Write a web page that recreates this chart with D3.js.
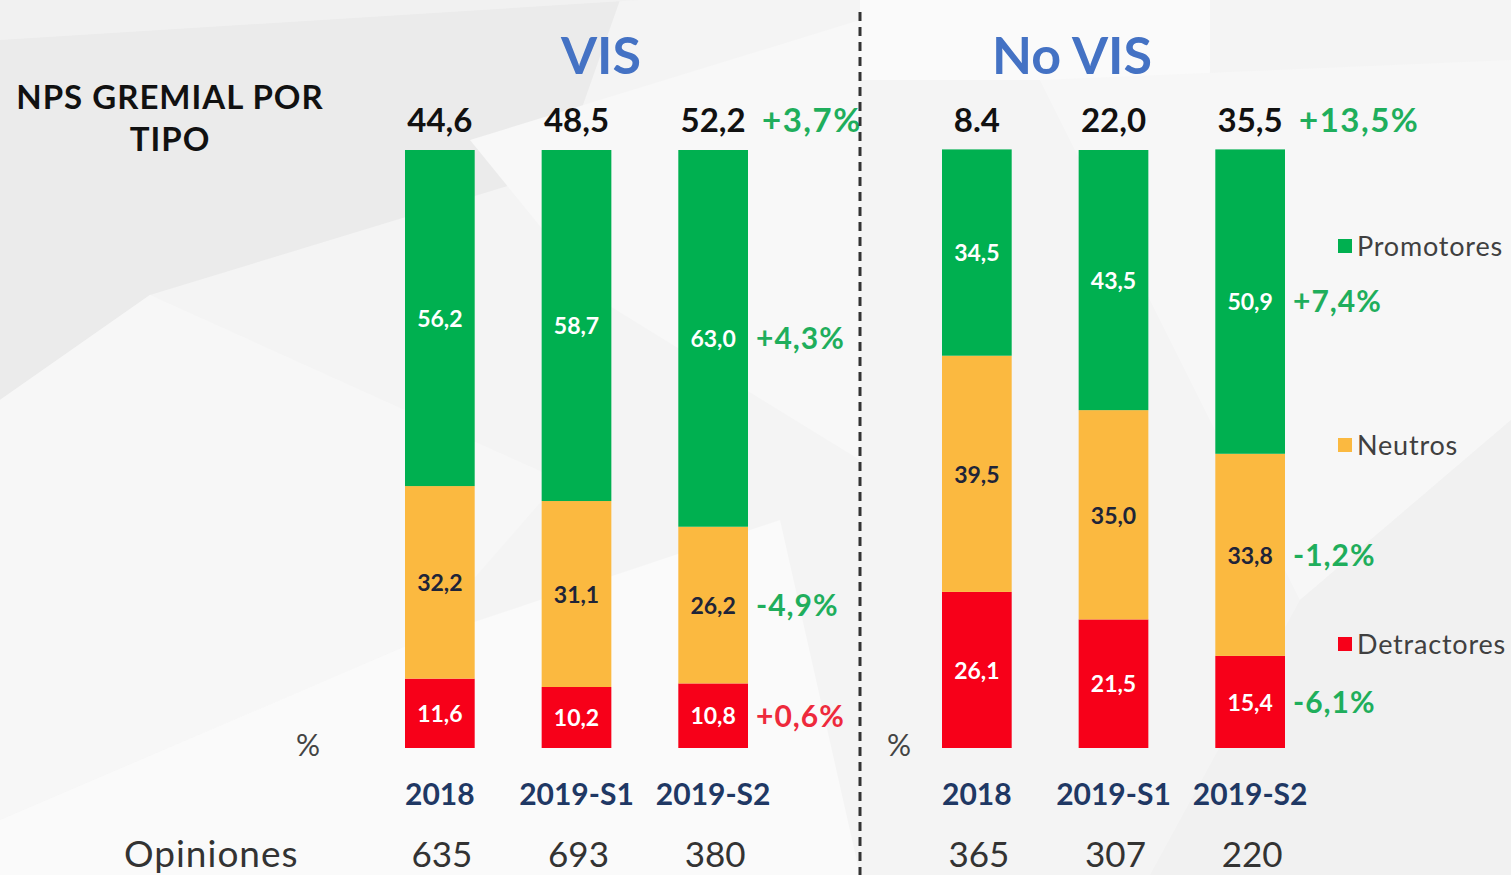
<!DOCTYPE html>
<html>
<head>
<meta charset="utf-8">
<script src="https://cdn.jsdelivr.net/npm/d3@7"></script>
<style>
  html, body { margin: 0; padding: 0; background: #f4f4f4; }
  svg { display: block; }
  text { font-family: "Lato", "Open Sans", sans-serif; }
</style>
</head>
<body>
<script>
"use strict";

var width = 1511;
var height = 875;

var categories = ["2018", "2019-S1", "2019-S2"];
var segmentKeys = ["Detractores", "Neutros", "Promotores"];
var legendKeys = ["Promotores", "Neutros", "Detractores"];

var visPromotores = [56.2, 58.7, 63.0];
var visNeutros = [32.2, 31.1, 26.2];
var visDetractores = [11.6, 10.2, 10.8];
var visNps = [44.6, 48.5, 52.2];
var visNpsLabels = ["44,6", "48,5", "52,2"];
var visOpiniones = [635, 693, 380];

var noVisPromotores = [34.5, 43.5, 50.9];
var noVisNeutros = [39.5, 35.0, 33.8];
var noVisDetractores = [26.1, 21.5, 15.4];
var noVisNps = [8.4, 22.0, 35.5];
var noVisNpsLabels = ["8.4", "22,0", "35,5"];
var noVisOpiniones = [365, 307, 220];

(function () {

  var colors = {
    Promotores: "#00b050",
    Neutros: "#fbb940",
    Detractores: "#f70019",
    good: "#1fae5c",
    bad: "#ee2a3c",
    title: "#4472c4",
    navy: "#1f3864"
  };

  // "better" direction for each series, used to colour the change labels
  var direction = { Promotores: 1, Neutros: -1, Detractores: -1, NPS: 1 };

  var panels = [
    { title: "VIS", cx: 601, range: [405, 748], pctX: 308,
      Promotores: visPromotores, Neutros: visNeutros, Detractores: visDetractores,
      nps: visNps, npsLabels: visNpsLabels, opiniones: visOpiniones },
    { title: "No VIS", cx: 1072, range: [942, 1285], pctX: 899,
      Promotores: noVisPromotores, Neutros: noVisNeutros, Detractores: noVisDetractores,
      nps: noVisNps, npsLabels: noVisNpsLabels, opiniones: noVisOpiniones }
  ];

  var svg = d3.select("body")
    .append("svg")
    .attr("width", width)
    .attr("height", height);

  // soft faceted background
  var bg = svg.append("g").attr("class", "background");
  bg.append("rect").attr("width", width).attr("height", height).attr("fill", "#f4f4f4");
  var facets = [
    { pts: [[0, 30], [620, 0], [560, 170], [150, 295], [0, 400]], fill: "#ebebeb" },
    { pts: [[0, 0], [640, 0], [0, 40]], fill: "#f1f1f1" },
    { pts: [[150, 295], [560, 480], [420, 640], [0, 820], [0, 400]], fill: "#f7f7f7" },
    { pts: [[0, 820], [420, 640], [780, 520], [860, 875], [0, 875]], fill: "#fafafa" },
    { pts: [[470, 140], [860, 20], [860, 460], [600, 300]], fill: "#f8f8f8" },
    { pts: [[860, 0], [1210, 0], [1210, 80], [860, 80]], fill: "#fafafa" },
    { pts: [[1040, 80], [1511, 60], [1511, 420], [1300, 600]], fill: "#f7f7f7" },
    { pts: [[1300, 600], [1511, 420], [1511, 875], [1150, 875]], fill: "#f1f1f1" }
  ];
  bg.selectAll("polygon")
    .data(facets)
    .enter()
    .append("polygon")
    .attr("points", function (d) { return d.pts.map(function (p) { return p.join(","); }).join(" "); })
    .attr("fill", function (d) { return d.fill; });

  var y = d3.scaleLinear().domain([0, 100]).range([748, 150]);

  var stack = d3.stack().keys(segmentKeys);

  function fmt(v) {
    return d3.format(".1f")(v).replace(".", ",");
  }

  function deltaText(v) {
    var s = v > 0 ? "+" : (v < 0 ? "-" : "");
    return s + fmt(Math.abs(v)) + "%";
  }

  function deltaColor(key, v) {
    return v * direction[key] >= 0 ? colors.good : colors.bad;
  }

  // left heading
  svg.append("text")
    .attr("x", 170).attr("y", 109)
    .attr("text-anchor", "middle")
    .attr("font-size", 33).attr("font-weight", 700).attr("fill", "#111")
    .attr("letter-spacing", 1)
    .text("NPS GREMIAL POR");
  svg.append("text")
    .attr("x", 170).attr("y", 151)
    .attr("text-anchor", "middle")
    .attr("font-size", 33).attr("font-weight", 700).attr("fill", "#111")
    .attr("letter-spacing", 1)
    .text("TIPO");

  svg.append("text")
    .attr("x", 124).attr("y", 867)
    .attr("font-size", 37).attr("fill", "#333")
    .attr("letter-spacing", 1)
    .text("Opiniones");

  panels.forEach(function (p) {
    var g = svg.append("g").attr("class", "panel");

    var x = d3.scaleBand()
      .domain(categories)
      .range(p.range)
      .paddingInner(0.49)
      .paddingOuter(0);

    var rows = categories.map(function (c, i) {
      return { cat: c, Promotores: p.Promotores[i], Neutros: p.Neutros[i], Detractores: p.Detractores[i] };
    });
    var series = stack(rows);

    g.append("text")
      .attr("x", p.cx).attr("y", 74)
      .attr("text-anchor", "middle")
      .attr("font-size", 52).attr("font-weight", 700).attr("fill", colors.title)
      .text(p.title);

    var layer = g.selectAll("g.layer")
      .data(series)
      .enter()
      .append("g")
      .attr("class", "layer")
      .attr("fill", function (d) { return colors[d.key]; });

    layer.selectAll("rect")
      .data(function (d) { return d; })
      .enter()
      .append("rect")
      .attr("x", function (d) { return x(d.data.cat); })
      .attr("y", function (d) { return y(d[1]); })
      .attr("width", x.bandwidth())
      .attr("height", function (d) { return y(d[0]) - y(d[1]); });

    layer.selectAll("text")
      .data(function (d) { return d.map(function (e) { return { key: d.key, e: e }; }); })
      .enter()
      .append("text")
      .attr("x", function (d) { return x(d.e.data.cat) + x.bandwidth() / 2; })
      .attr("y", function (d) { return (y(d.e[0]) + y(d.e[1])) / 2; })
      .attr("dy", "0.38em")
      .attr("text-anchor", "middle")
      .attr("font-size", 23).attr("font-weight", 700)
      .attr("fill", function (d) { return d.key === "Neutros" ? "#1e2438" : "#ffffff"; })
      .text(function (d) { return fmt(d.e.data[d.key]); });

    // NPS on top of each bar
    g.selectAll("text.nps")
      .data(categories)
      .enter()
      .append("text")
      .attr("class", "nps")
      .attr("x", function (d) { return x(d) + x.bandwidth() / 2; })
      .attr("y", 132)
      .attr("text-anchor", "middle")
      .attr("font-size", 33).attr("font-weight", 700).attr("fill", "#111")
      .text(function (d, i) { return p.npsLabels[i]; });

    // change between the last two periods
    var last = categories[2];
    var xr = x(last) + x.bandwidth();
    var npsDelta = p.nps[2] - p.nps[1];
    g.append("text")
      .attr("x", xr + 14).attr("y", 132)
      .attr("font-size", 33).attr("font-weight", 700)
      .attr("letter-spacing", 1.5)
      .attr("fill", deltaColor("NPS", npsDelta))
      .text(deltaText(npsDelta));

    series.forEach(function (s) {
      var d = s[2];
      var v = p[s.key][2] - p[s.key][1];
      g.append("text")
        .attr("x", xr + 8)
        .attr("y", (y(d[0]) + y(d[1])) / 2)
        .attr("dy", "0.36em")
        .attr("font-size", 30).attr("font-weight", 700)
        .attr("letter-spacing", 1)
        .attr("fill", deltaColor(s.key, v))
        .text(deltaText(v));
    });

    // category axis
    var axis = g.append("g")
      .attr("transform", "translate(0,805)")
      .call(d3.axisBottom(x).tickSize(0).tickPadding(0));
    axis.select(".domain").remove();
    axis.selectAll("text")
      .attr("dy", 0)
      .attr("font-family", "Lato, sans-serif")
      .attr("font-size", 30).attr("font-weight", 700).attr("fill", colors.navy);

    g.append("text")
      .attr("x", p.pctX).attr("y", 756)
      .attr("text-anchor", "middle")
      .attr("font-size", 30).attr("fill", "#444")
      .text("%");

    g.selectAll("text.opiniones")
      .data(p.opiniones)
      .enter()
      .append("text")
      .attr("class", "opiniones")
      .attr("x", function (d, i) { return x(categories[i]) + x.bandwidth() / 2 + 2; })
      .attr("y", 867)
      .attr("text-anchor", "middle")
      .attr("font-size", 35).attr("fill", "#333")
      .text(function (d) { return d; });
  });

  // separator
  svg.append("line")
    .attr("x1", 860).attr("x2", 860)
    .attr("y1", 12).attr("y2", height)
    .attr("stroke", "#333").attr("stroke-width", 3)
    .attr("stroke-dasharray", "9,6");

  // legend
  var legend = svg.selectAll("g.legend")
    .data(legendKeys)
    .enter()
    .append("g")
    .attr("class", "legend")
    .attr("transform", function (d, i) { return "translate(1338," + (247 + i * 199) + ")"; });

  legend.append("rect")
    .attr("x", 0).attr("y", -8)
    .attr("width", 14).attr("height", 14)
    .attr("fill", function (d) { return colors[d]; });

  legend.append("text")
    .attr("x", 19).attr("y", 9)
    .attr("font-size", 27).attr("fill", "#404040")
    .attr("letter-spacing", 0.8)
    .text(function (d) { return d; });
})();
</script>
</body>
</html>
